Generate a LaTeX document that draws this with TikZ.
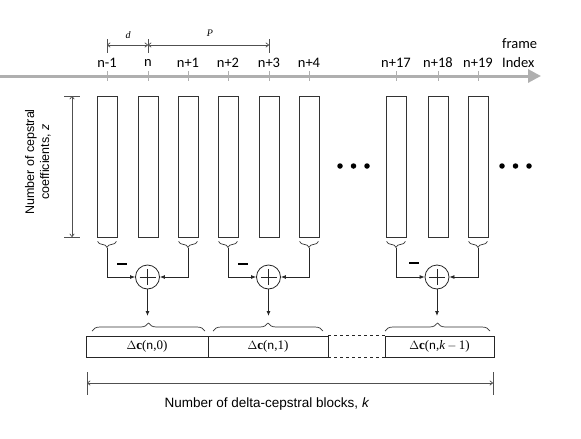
\documentclass[tikz,border=0pt]{standalone}
\usepackage{fontspec}
\setmainfont{Liberation Serif}
\newfontfamily\calfont{Carlito}
\newfontfamily\arialfont{Liberation Sans}
\usetikzlibrary{arrows.meta,decorations.pathreplacing,calc}
\definecolor{axgray}{RGB}{175,175,175}
\definecolor{dimgray}{RGB}{80,80,80}
\begin{document}
\begin{tikzpicture}[x=1pt,y=-1pt,
  col/.style={draw=black!80,line width=0.8pt,minimum width=20pt,minimum height=141pt,inner sep=0pt},
  ticklab/.style={font=\calfont\fontsize{14.5}{18.5}\selectfont,inner sep=0pt},
  axtick/.style={draw=axgray,line width=0.8pt},
  dimline/.style={draw=dimgray,line width=0.7pt},
  dimarrow/.style={dimline,{To[length=3.5pt,width=5pt]}-{To[length=3.5pt,width=5pt]}},
  sbrace/.style={draw=black!80,line width=0.7pt,decorate,decoration={brace,amplitude=6pt}},
  bbrace/.style={draw=black!80,line width=0.7pt,decorate,decoration={brace,amplitude=8pt}},
  sumnode/.style={draw=black!85,circle,line width=0.8pt,minimum size=24pt,inner sep=0pt},
  inline/.style={draw=black!85,line width=0.8pt,-{Latex[length=5pt,width=4pt]}},
  cell/.style={draw=black!85,line width=0.8pt,minimum height=21pt,inner sep=0pt,font=\fontsize{13}{15}\selectfont},
  minus/.style={draw=black,line width=2pt},
  dotnode/.style={fill=black,circle,minimum size=5.5pt,inner sep=0pt}
]
\useasboundingbox (0,0) rectangle (581,439);

% axis
\coordinate (ax0) at (0,76);
\coordinate (ax1) at (541,76);
\draw[axgray,line width=3pt,-{Triangle[length=13pt,width=13pt]}] (ax0) -- (ax1);

% ticks and labels
\foreach \nm/\xx/\lab in {t1/107/n-1,t2/148/n,t3/188/n+1,t4/228/n+2,t5/269/n+3,t6/309/n+4,t7/396/n+17,t8/438/n+18,t9/478/n+19}{
  \draw[axtick] (\xx,71) -- (\xx,81);
  \node[ticklab] (\nm) at (\xx,63) {\lab};
}
\node[ticklab,anchor=west,align=left] (fi) at (502,53) {frame\\Index};

% d and P dimensions
\coordinate (dA) at (107,45);
\coordinate (dB) at (148,45);
\coordinate (dC) at (269,45);
\draw[dimline] (107,39) -- (107,53);
\draw[dimline] (148,39) -- (148,53);
\draw[dimline] (269,39) -- (269,53);
\draw[dimarrow] (dA) -- (dB);
\draw[dimarrow] (dB) -- (dC);
\node[font=\itshape\fontsize{10}{12}\selectfont] (dl) at (128,35) {d};
\node[font=\itshape\fontsize{10}{12}\selectfont] (pl) at (210,33) {P};

% columns
\foreach \nm/\xx in {r1/107,r2/148,r3/188,r4/228,r5/269,r6/309,r7/396,r8/438,r9/478}{
  \node[col] (\nm) at (\xx,166.5) {};
}

% left dimension
\coordinate (zA) at (72,96);
\coordinate (zB) at (72,237);
\draw[dimline] (64,96) -- (80,96);
\draw[dimline] (64,237) -- (80,237);
\draw[dimarrow] (zA) -- (zB);
\node[rotate=90,align=center,font=\arialfont\fontsize{12.5}{15}\selectfont] (zl) at (38,162) {Number of cepstral\\coefficients, \textit{z}};

% dots
\foreach \nm/\xx in {da/340,db/353.5,dc/367,dd/502,de/515.5,df/529}{
  \node[dotnode] (\nm) at (\xx,166) {};
}

% braces under columns
\foreach \r in {r1,r3,r4,r6,r7,r9}{
  \draw[sbrace] ([yshift=-4pt,xshift=-1pt]\r.south east) -- ([yshift=-4pt,xshift=1pt]\r.south west);
}

% summing nodes
\node[sumnode] (s1) at (147.5,277) {};
\node[sumnode] (s2) at (268.5,277) {};
\node[sumnode] (s3) at (437,277) {};
\foreach \s in {s1,s2,s3}{
  \draw[black!85,line width=0.8pt] ([xshift=-8pt]\s.center) -- ([xshift=8pt]\s.center);
  \draw[black!85,line width=0.8pt] ([yshift=-8pt]\s.center) -- ([yshift=8pt]\s.center);
}

% inputs
\draw[inline] ($(r1.south)+(0,11)$) |- (s1.west);
\draw[inline] ($(r3.south)+(0,11)$) |- (s1.east);
\draw[inline] ($(r4.south)+(0,11)$) |- (s2.west);
\draw[inline] ($(r6.south)+(0,11)$) |- (s2.east);
\draw[inline] ($(r7.south)+(0,11)$) |- (s3.west);
\draw[inline] ($(r9.south)+(0,11)$) |- (s3.east);

% minus signs
\coordinate (m1a) at (117,264); \coordinate (m1b) at (127,264);
\coordinate (m2a) at (238,264); \coordinate (m2b) at (248,264);
\coordinate (m3a) at (409,263); \coordinate (m3b) at (419,263);
\draw[minus] (m1a) -- (m1b);
\draw[minus] (m2a) -- (m2b);
\draw[minus] (m3a) -- (m3b);

% outputs
\coordinate (o1) at (147.5,316);
\coordinate (o2) at (268.5,316);
\coordinate (o3) at (437,316);
\draw[inline] (s1.south) -- (o1);
\draw[inline] (s2.south) -- (o2);
\draw[inline] (s3.south) -- (o3);

% braces above bar
\draw[bbrace] (92,331) -- (205,331);
\draw[bbrace] (213,331) -- (323,331);
\draw[bbrace] (385,331) -- (490,331);

% bar cells
\node[cell,minimum width=122pt] (b1) at (147,346.5) {$\Delta$\textbf{c}(\calfont n\rmfamily,0)};
\node[cell,minimum width=120pt] (b2) at (268,346.5) {$\Delta$\textbf{c}(\calfont n\rmfamily,1)};
\node[cell,minimum width=109pt] (b3) at (439.5,346.5) {$\Delta$\textbf{c}(\calfont n\rmfamily,\textit{k}\,$-$\,1)};
\draw[black!85,line width=0.8pt,dashed] (b2.north east) -- (b3.north west);
\draw[black!85,line width=0.8pt,dashed] (b2.south east) -- (b3.south west);

% bottom dimension
\coordinate (kA) at (87,383);
\coordinate (kB) at (493,383);
\draw[dimline] (87,372) -- (87,395);
\draw[dimline] (493,372) -- (493,395);
\draw[dimarrow] (kA) -- (kB);
\node[font=\arialfont\fontsize{13.5}{16}\selectfont] (kl) at (267,404) {Number of delta-cepstral blocks, \textit{k}};
\end{tikzpicture}
\end{document}
